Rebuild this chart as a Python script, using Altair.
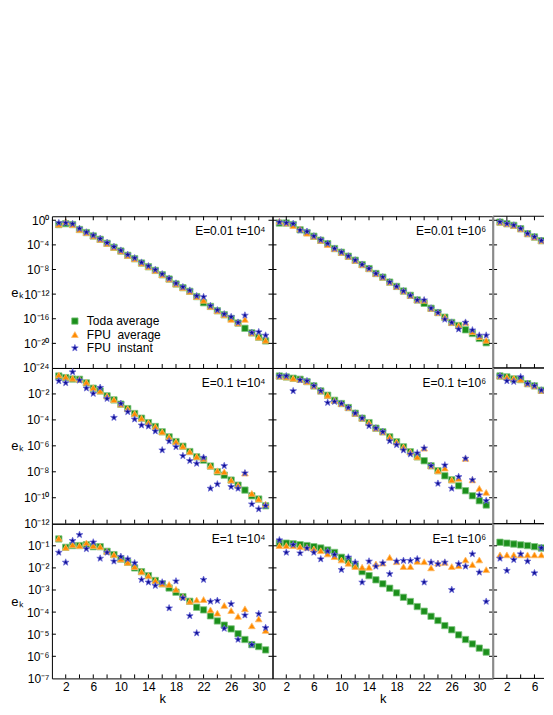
import altair as alt
import pandas as pd

FONT = "Liberation Sans"
SERIES = ["Toda average", "FPU\u00a0 average", "FPU\u00a0 instant"]
FILLS = ["#1b8f1b", "#ff8a00", "#10109a"]
HALOS = ["#7cc47c", "#ffbb66", "#6f6fd6"]
STAR = ("M0,-1L0.247,-0.34L0.951,-0.309L0.399,0.13L0.588,0.809L0,0.42"
        "L-0.588,0.809L-0.399,0.13L-0.951,-0.309L-0.247,-0.34Z")
SHAPES = ["square", "triangle-up", STAR]
SIZES = [40, 50, 80]

K_FULL = list(range(1, 32))
K_CUT = list(range(1, 9))

# log10(e_k); row = energy, column = time
R1C1_TODA = [-0.70, -0.55, -0.70, -1.50, -2.00, -2.55, -3.10, -3.75, -4.40, -5.00, -5.70, -6.25, -6.95, -7.55, -8.15, -8.85, -9.55, -10.35, -10.95, -11.55, -12.40, -13.40, -14.00, -14.70, -15.35, -15.95, -16.70, -17.55, -18.30, -19.00, -19.60]
R1C1_FPUA = [-0.65, -0.20, -0.70, -1.50, -2.00, -2.55, -3.10, -3.75, -4.40, -5.00, -5.70, -6.25, -6.95, -7.55, -8.15, -8.85, -9.55, -10.35, -10.95, -11.55, -12.40, -13.00, -14.00, -14.70, -15.35, -16.10, -16.70, -16.10, -18.30, -19.00, -19.50]
R1C1_FPUI = [-0.43, -0.43, -0.59, -1.35, -1.95, -2.45, -3.00, -3.65, -4.30, -4.90, -5.60, -6.15, -6.85, -7.45, -8.05, -8.75, -9.45, -10.25, -10.85, -11.40, -12.30, -12.45, -13.90, -14.60, -15.25, -15.70, -16.60, -15.45, -18.25, -18.15, -18.70]
R1C2_TODA = [-0.45, -0.45, -0.70, -1.55, -2.00, -2.60, -3.25, -3.80, -4.60, -5.20, -5.85, -6.50, -7.20, -7.85, -8.65, -9.25, -10.05, -10.75, -11.50, -12.20, -12.95, -13.50, -14.30, -15.00, -15.75, -16.60, -17.10, -17.80, -18.40, -19.20, -19.90]
R1C2_FPUA = [-0.15, -0.45, -0.85, -1.40, -2.10, -2.60, -3.25, -3.95, -4.60, -5.20, -5.85, -6.50, -7.20, -7.85, -8.65, -9.25, -10.05, -10.75, -11.50, -12.20, -12.95, -13.00, -14.30, -15.00, -15.70, -16.60, -17.10, -16.60, -18.10, -18.90, -19.50]
R1C2_FPUI = [-0.32, -0.43, -0.57, -1.62, -1.83, -2.59, -3.20, -3.78, -4.59, -5.19, -5.84, -6.49, -7.19, -7.84, -8.65, -9.24, -10.05, -10.76, -11.51, -12.22, -12.97, -12.97, -14.30, -15.00, -16.10, -16.60, -17.70, -16.60, -17.85, -18.70, -18.70]
R1C3_TODA = [-0.30, -0.56, -0.83, -1.38, -2.18, -2.72, -3.32, -3.98]
R1C3_FPUA = [-0.30, -0.56, -0.83, -1.38, -2.18, -2.72, -3.32, -3.98]
R1C3_FPUI = [-0.27, -0.54, -0.81, -1.35, -2.16, -2.70, -3.30, -3.95]
R2C1_TODA = [-0.62, -0.74, -0.85, -0.87, -1.15, -1.56, -1.77, -2.15, -2.46, -2.79, -3.13, -3.51, -3.87, -4.21, -4.51, -4.92, -5.31, -5.67, -6.03, -6.44, -6.85, -7.10, -7.56, -8.00, -8.26, -8.64, -9.03, -9.41, -9.85, -10.10, -10.62]
R2C1_FPUA = [-0.54, -0.69, -0.79, -0.87, -1.10, -1.51, -1.77, -2.15, -2.44, -2.79, -3.13, -3.51, -3.87, -4.21, -4.51, -4.92, -5.31, -5.67, -6.03, -6.44, -6.82, -6.97, -7.56, -7.92, -8.00, -8.64, -9.03, -8.10, -9.67, -10.10, -10.49]
R2C1_FPUI = [-1.00, -1.15, -0.31, -0.95, -1.56, -1.97, -1.51, -2.36, -3.82, -2.74, -3.38, -3.95, -4.41, -4.49, -4.87, -6.33, -5.64, -6.08, -6.77, -7.15, -7.36, -6.90, -9.28, -8.95, -7.54, -9.15, -9.28, -8.10, -10.49, -10.87, -10.62]
R2C2_TODA = [-0.62, -0.69, -0.79, -0.87, -1.05, -1.38, -1.77, -2.10, -2.49, -2.74, -3.05, -3.49, -3.87, -4.21, -4.64, -4.92, -5.31, -5.69, -6.08, -6.46, -6.85, -7.15, -7.54, -7.92, -8.31, -8.62, -9.08, -9.46, -9.85, -10.23, -10.56]
R2C2_FPUA = [-0.62, -0.69, -0.79, -0.87, -1.05, -1.38, -1.77, -2.10, -2.49, -2.74, -3.05, -3.49, -3.87, -4.21, -4.64, -4.92, -5.31, -5.69, -6.08, -6.46, -6.85, -6.18, -7.54, -7.92, -7.72, -8.62, -8.51, -6.97, -8.62, -9.28, -9.59]
R2C2_FPUI = [-0.62, -0.62, -1.77, -0.92, -1.00, -1.38, -1.77, -2.67, -2.59, -2.74, -3.05, -3.49, -3.87, -4.46, -4.64, -4.92, -5.62, -5.92, -6.33, -6.64, -6.56, -6.18, -7.54, -8.90, -7.49, -9.28, -8.38, -6.97, -8.62, -9.79, -10.23]
R2C3_TODA = [-0.62, -0.69, -0.85, -0.90, -1.21, -1.38, -1.72, -2.10]
R2C3_FPUA = [-0.62, -0.69, -0.79, -0.87, -1.21, -1.38, -1.72, -2.15]
R2C3_FPUI = [-0.62, -1.00, -1.05, -0.69, -1.21, -1.38, -1.72, -2.41]
R3C1_TODA = [-0.69, -1.07, -0.99, -0.99, -0.95, -1.04, -1.04, -1.25, -1.40, -1.60, -1.75, -2.00, -2.17, -2.35, -2.57, -2.72, -2.91, -3.10, -3.30, -3.51, -3.78, -3.90, -4.17, -4.40, -4.59, -4.76, -4.98, -5.24, -5.47, -5.56, -5.71]
R3C1_FPUA = [-0.66, -1.07, -0.95, -0.99, -0.87, -0.99, -1.04, -1.25, -1.40, -1.60, -1.75, -1.94, -2.17, -2.35, -2.57, -2.72, -2.75, -2.97, -3.30, -3.51, -3.45, -3.43, -3.90, -4.05, -3.70, -3.93, -4.19, -3.85, -4.62, -4.31, -4.83]
R3C1_FPUI = [-1.30, -1.75, -0.77, -0.50, -1.14, -0.84, -1.57, -1.30, -1.70, -1.49, -1.60, -1.78, -2.53, -2.65, -2.80, -2.65, -3.82, -2.60, -3.36, -4.17, -4.95, -2.53, -3.52, -3.48, -4.74, -3.63, -5.24, -4.14, -5.48, -4.08, -4.71]
R3C2_TODA = [-0.88, -0.88, -0.91, -0.95, -0.99, -1.04, -1.10, -1.19, -1.30, -1.52, -1.67, -1.90, -2.17, -2.35, -2.54, -2.72, -2.92, -3.13, -3.33, -3.52, -3.75, -3.96, -4.19, -4.38, -4.61, -4.80, -5.03, -5.24, -5.44, -5.63, -5.81]
R3C2_FPUA = [-0.99, -0.99, -0.99, -1.04, -1.07, -1.14, -1.22, -1.37, -1.49, -1.64, -1.79, -1.94, -1.97, -1.97, -1.82, -1.78, -1.52, -1.72, -1.94, -1.94, -1.70, -1.72, -2.00, -1.78, -1.75, -1.94, -1.90, -1.64, -1.85, -1.64, -2.08]
R3C2_FPUI = [-0.74, -1.30, -0.95, -1.33, -1.11, -1.30, -1.60, -1.25, -1.40, -2.08, -1.52, -1.75, -2.65, -1.70, -1.93, -1.78, -2.27, -1.70, -1.67, -1.67, -1.60, -2.65, -1.75, -1.82, -1.75, -2.99, -1.82, -1.93, -1.37, -2.20, -3.52]
R3C3_TODA = [-0.84, -0.88, -0.92, -0.96, -0.99, -1.04, -1.10, -1.19]
R3C3_FPUA = [-1.41, -1.41, -1.41, -1.41, -1.41, -1.41, -1.41, -1.41]
R3C3_FPUI = [-1.57, -2.12, -1.63, -1.37, -1.70, -2.23, -1.10, -1.55]

PANEL_SERIES = {
    (0, 0): (R1C1_TODA, R1C1_FPUA, R1C1_FPUI), (0, 1): (R1C2_TODA, R1C2_FPUA, R1C2_FPUI), (0, 2): (R1C3_TODA, R1C3_FPUA, R1C3_FPUI),
    (1, 0): (R2C1_TODA, R2C1_FPUA, R2C1_FPUI), (1, 1): (R2C2_TODA, R2C2_FPUA, R2C2_FPUI), (1, 2): (R2C3_TODA, R2C3_FPUA, R2C3_FPUI),
    (2, 0): (R3C1_TODA, R3C1_FPUA, R3C1_FPUI), (2, 1): (R3C2_TODA, R3C2_FPUA, R3C2_FPUI), (2, 2): (R3C3_TODA, R3C3_FPUA, R3C3_FPUI),
}
PANEL_TEXT = {
    (0, 0): "E=0.01 t=10\u2074", (0, 1): "E=0.01 t=10\u2076",
    (1, 0): "E=0.1 t=10\u2074", (1, 1): "E=0.1 t=10\u2076",
    (2, 0): "E=1 t=10\u2074", (2, 1): "E=1 t=10\u2076",
}

Y_DOMAIN_EXP = [(-24, 0.65), (-12, 0), (-7, 0)]
Y_LABEL_EXP = [[0, -4, -8, -12, -16, -20, -24], [-2, -4, -6, -8, -10, -12], [-1, -2, -3, -4, -5, -6, -7]]
Y_TICK_EXP = [[0, -4, -8, -12, -16, -20], [-2, -4, -6, -8, -10], [-1, -2, -3, -4, -5, -6]]
X_LABELS = [[2, 6, 10, 14, 18, 22, 26, 30], [2, 6, 10, 14, 18, 22, 26, 30], [2, 6]]
X_TICKS = [list(range(2, 31, 2)), list(range(2, 31, 2)), [2, 4, 6]]

WIDTHS = [221, 221, 51]
HEIGHTS = [152, 156, 155]
X_DOMAINS = [[0, 32], [0, 32], [0, 51 * 32 / 221]]
TICK = 4

SUP = str.maketrans("-0123456789", "\u207b\u2070\u00b9\u00b2\u00b3\u2074\u2075\u2076\u2077\u2078\u2079")


def label_expr(exps):
    expr = "''"
    for e in exps:
        expr = "round(log(datum.value)/LN10) == %d ? '10%s' : %s" % (e, str(e).translate(SUP), expr)
    return expr


def panel(r, c):
    w, h = WIDTHS[c], HEIGHTS[r]
    cut = c == 2
    ks = K_CUT if cut else K_FULL
    rows = []
    for name, vals in zip(SERIES, PANEL_SERIES[(r, c)]):
        for k, v in zip(ks, vals):
            rows.append({"k": k, "e": 10 ** v, "series": name})
    df = pd.DataFrame(rows)

    lo, hi = Y_DOMAIN_EXP[r]
    xs = alt.Scale(domain=X_DOMAINS[c], nice=False, zero=False)
    ys = alt.Scale(type="log", domain=[10.0 ** lo, 10.0 ** hi], nice=False)

    if c == 0:
        yaxis = alt.Axis(values=[10.0 ** e for e in Y_LABEL_EXP[r]], labelExpr=label_expr(Y_LABEL_EXP[r]),
                         ticks=False, domain=False, grid=False, labelPadding=3,
                         title="e\u2096", titleAngle=0, titleAlign="center", titleBaseline="middle",
                         titleX=-35, titleY=h / 2, titleFontSize=13)
    else:
        yaxis = None
    if r == 2:
        if not cut:
            xaxis = alt.Axis(values=X_LABELS[c], format="d", ticks=False, domain=False, grid=False,
                             labelPadding=3, title="k", titlePadding=0, titleFontSize=13)
        else:
            xaxis = alt.Axis(values=X_LABELS[c], format="d", ticks=False, domain=False, grid=False,
                             labelPadding=3, title="")
    else:
        xaxis = None

    pts = alt.Chart(df).mark_point(filled=True, opacity=1, strokeWidth=0.8, clip=cut).encode(
        x=alt.X("k:Q", scale=xs, axis=xaxis),
        y=alt.Y("e:Q", scale=ys, axis=yaxis),
        color=alt.Color("series:N", scale=alt.Scale(domain=SERIES, range=FILLS), title=None),
        stroke=alt.Stroke("series:N", scale=alt.Scale(domain=SERIES, range=HALOS), title=None),
        shape=alt.Shape("series:N", scale=alt.Scale(domain=SERIES, range=SHAPES), title=None),
        size=alt.Size("series:N", scale=alt.Scale(domain=SERIES, range=SIZES), title=None),
    )
    ydf = pd.DataFrame({"e": [10.0 ** e for e in Y_TICK_EXP[r]]})
    xdf = pd.DataFrame({"k": X_TICKS[c]})
    left = alt.Chart(ydf).mark_rule(color="black", strokeWidth=1).encode(
        y=alt.Y("e:Q", scale=ys, axis=yaxis), x=alt.value(0), x2=alt.value(TICK))
    bottom = alt.Chart(xdf).mark_rule(color="black", strokeWidth=1).encode(
        x=alt.X("k:Q", scale=xs, axis=xaxis), y=alt.value(h - TICK), y2=alt.value(h))
    layers = [pts, left, bottom]
    if not cut:
        right = alt.Chart(ydf).mark_rule(color="black", strokeWidth=1).encode(
            y=alt.Y("e:Q", scale=ys, axis=yaxis), x=alt.value(w - TICK), x2=alt.value(w))
        layers.append(right)
    if r == 0:
        top = alt.Chart(xdf).mark_rule(color="black", strokeWidth=1).encode(
            x=alt.X("k:Q", scale=xs, axis=xaxis), y=alt.value(0), y2=alt.value(TICK))
        layers.append(top)
    if (r, c) in PANEL_TEXT:
        txt = alt.Chart(pd.DataFrame({"t": [PANEL_TEXT[(r, c)]]})).mark_text(
            align="right", baseline="middle", fontSize=12, font=FONT, color="black"
        ).encode(text="t:N", x=alt.value(w - 7), y=alt.value(15))
        layers.append(txt)
    if cut:
        one = pd.DataFrame({"b": [0]})
        layers.append(alt.Chart(one).mark_rule(color="black", strokeWidth=1).encode(
            x=alt.value(0), x2=alt.value(w), y=alt.value(0)))
        layers.append(alt.Chart(one).mark_rule(color="black", strokeWidth=1).encode(
            x=alt.value(0), x2=alt.value(w), y=alt.value(h)))
        layers.append(alt.Chart(one).mark_rule(color="#8a8a8a", strokeWidth=2).encode(
            x=alt.value(0), y=alt.value(0), y2=alt.value(h)))
        return alt.layer(*layers).properties(width=w, height=h, view=alt.ViewBackground(stroke="transparent"))
    return alt.layer(*layers).properties(width=w, height=h)


panels = [panel(r, c) for r in range(3) for c in range(3)]

chart = alt.concat(*panels, columns=3, spacing=0, bounds="flush").properties(
    padding={"left": 2, "top": 205, "right": 0, "bottom": 0}
).configure_view(stroke="black", strokeWidth=1).configure_axis(
    labelFont=FONT, titleFont=FONT, labelFontSize=12, labelColor="black", titleColor="black",
    titleFontWeight="normal"
).configure_legend(
    orient="none", legendX=17, legendY=99, labelFont=FONT, labelFontSize=12, labelColor="black",
    rowPadding=1.5, labelOffset=6, padding=0, symbolStrokeWidth=0.8
)

chart.save("out.html", embed_options={"renderer": "svg", "actions": False})
